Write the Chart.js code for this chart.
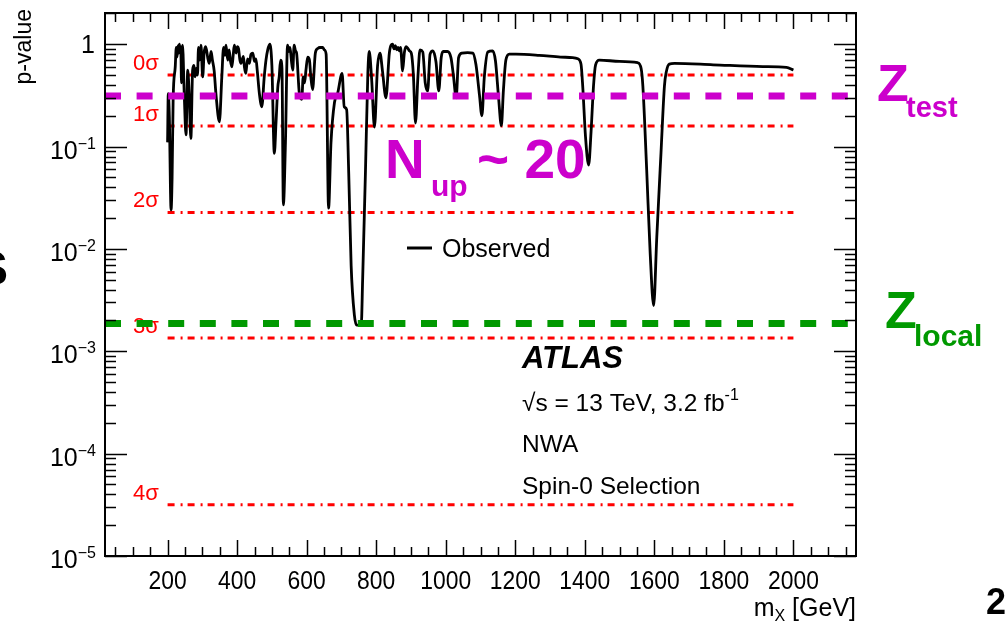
<!DOCTYPE html>
<html><head><meta charset="utf-8">
<script src="https://cdn.jsdelivr.net/npm/chart.js@4.4.1/dist/chart.umd.min.js"></script>
<style>html,body{margin:0;padding:0;background:#fff;}#wrap{width:1005px;height:637px;position:relative;}</style>
</head><body><div id="wrap"><canvas id="c" width="1005" height="637"></canvas></div>
<script>
// ---- data ----
const massGeV = [200,202,205,210,213,216,222,225,227,230,232,234,236,238,240,243,248,253,258,262,267,272,276,279,283,286,289,292,296,301,305,309,312,316,320,325,329,334,339,349,356,361,365,368,373,377,381,385,389,392,397,401,404,408,411,418,421,425,430,435,440,445,450,454,458,464,471,478,483,488,494,500,507,512,517,521,525,529,533,539,545,549,552,556,560,564,568,571,579,586,590,594,598,603,608,612,617,625,632,638,646,651,656,663,670,680,689,702,708,715,721,728,737,744,757,761,769,776,780,787,795,804,811,818,828,838,847,851,855,859,863,867,870,876,881,886,891,896,901,907,913,920,926,934,941,948,955,963,972,980,987,993,1005,1015,1022,1030,1037,1047,1063,1078,1087,1097,1104,1111,1121,1135,1143,1152,1160,1166,1173,1183,1202,1269,1330,1365,1380,1389,1394,1402,1411,1418,1425,1431,1442,1500,1552,1562,1567,1578,1588,1598,1607,1619,1629,1634,1643,1658,1769,1912,1980,2000];
const pObserved = [0.11,0.33,0.2,0.024,0.05,0.29,0.6,0.93,0.75,0.97,0.82,1.0,0.85,0.95,0.42,0.98,0.32,0.13,0.56,0.33,0.12,0.56,0.62,0.48,0.58,0.5,0.93,0.7,0.98,0.48,0.82,0.95,0.88,0.72,0.65,0.85,0.7,0.55,0.33,0.175,0.48,0.93,0.78,0.98,0.7,0.88,0.68,0.6,0.8,0.98,0.82,0.95,0.91,0.7,0.65,0.76,0.6,0.52,0.72,0.65,0.8,0.82,0.68,0.72,0.55,0.33,0.245,0.48,0.7,0.88,1.0,0.62,0.086,0.175,0.38,0.48,0.7,0.58,0.027,0.11,0.98,0.85,0.93,0.7,0.56,0.98,0.86,0.82,0.33,0.29,0.48,0.42,0.56,0.75,0.7,0.48,0.36,0.82,0.91,0.93,0.93,0.88,0.8,0.025,0.11,0.27,0.33,0.52,0.245,0.23,0.055,0.0068,0.0023,0.0018,0.0018,0.005,0.055,0.52,0.85,0.45,0.155,0.62,0.82,0.55,0.3,0.83,1.0,0.9,0.97,0.88,0.93,0.86,0.93,0.55,0.83,0.95,0.91,0.86,0.82,0.5,0.17,0.48,0.88,0.84,0.42,0.35,0.8,0.86,0.67,0.35,0.74,0.85,0.85,0.74,0.5,0.3,0.74,0.82,0.83,0.82,0.63,0.32,0.2,0.48,0.84,0.86,0.69,0.3,0.16,0.36,0.7,0.8,0.8,0.78,0.75,0.74,0.72,0.64,0.39,0.125,0.066,0.14,0.39,0.63,0.7,0.68,0.66,0.58,0.39,0.059,0.0091,0.0028,0.013,0.085,0.39,0.53,0.64,0.65,0.63,0.605,0.595,0.56];
const sigmaLabels = ['0σ','1σ','2σ','3σ','4σ'];
const sigmaP = [0.5, 0.1587, 0.02275, 0.00135, 3.167e-5];
const sigmaRange = [200, 2000];
const zTestP = 0.312;
const zLocalP = 0.00187;
const xTickLabels = ['200','400','600','800','1000','1200','1400','1600','1800','2000'];
const yTickExponents = [0,-1,-2,-3,-4,-5];
const legendLabel = 'Observed';

const FONT = '"Liberation Sans", Arial, Helvetica, sans-serif';
const MAGENTA = '#cc00cc', GREEN = '#009900';

const datasets = [];
datasets.push({label:'Ztest', data:[{x:20,y:zTestP},{x:2180,y:zTestP}], borderColor:MAGENTA, borderWidth:7, borderDash:[16,15.6], borderCapStyle:'butt', pointRadius:0, tension:0, order:0});
datasets.push({label:'Zlocal', data:[{x:20,y:zLocalP},{x:2180,y:zLocalP}], borderColor:GREEN, borderWidth:7, borderDash:[16,15.6], borderCapStyle:'butt', pointRadius:0, tension:0, order:0});
datasets.push({label:legendLabel, data:massGeV.map((m,i)=>({x:m,y:pObserved[i]})), borderColor:'#000', borderWidth:2.8, pointRadius:0, cubicInterpolationMode:'monotone', order:1});
sigmaP.forEach((p,i)=>datasets.push({label:sigmaLabels[i], data:[{x:sigmaRange[0],y:p},{x:sigmaRange[1],y:p}], borderColor:'#ff0000', borderWidth:3, borderDash:[7,6,2,5], borderCapStyle:'butt', pointRadius:0, tension:0, order:2}));

function sup(ctx, base, baseFont, supText, supFont, x, y, dy, align){
  ctx.font = baseFont; const wb = ctx.measureText(base).width;
  ctx.font = supFont; const ws = ctx.measureText(supText).width;
  let x0 = align==='right' ? x - wb - ws : x;
  ctx.textAlign='left';
  ctx.font = baseFont; ctx.fillText(base, x0, y);
  ctx.font = supFont; ctx.fillText(supText, x0+wb, y+dy);
}

const decor = {
  id:'decor',
  beforeDatasetsDraw(chart){
    const ctx = chart.ctx, ya = chart.scales.y;
    ctx.save();
    ctx.fillStyle = '#ff0000'; ctx.font = '22px '+FONT; ctx.textAlign='left'; ctx.textBaseline='alphabetic';
    sigmaP.forEach((p,i)=>{ ctx.fillText(sigmaLabels[i], 133, ya.getPixelForValue(p)-5); });
    ctx.restore();
  },
  afterDatasetsDraw(chart){
    const ctx = chart.ctx, xa = chart.scales.x, ya = chart.scales.y;
    const {left,right,top,bottom} = chart.chartArea;
    ctx.save();
    ctx.strokeStyle='#000'; ctx.lineWidth=2;
    ctx.strokeRect(left, top, right-left, bottom-top);
    ctx.lineWidth=1.5; ctx.beginPath();
    for(let e=-5;e<=0;e++){ for(let k=1;k<=9;k++){ const v=k*Math.pow(10,e); if(v<ya.min*0.999||v>ya.max) continue;
      const y=Math.round(ya.getPixelForValue(v))+0.5; const len = k===1?22:11;
      ctx.moveTo(left,y); ctx.lineTo(left+len,y); ctx.moveTo(right,y); ctx.lineTo(right-len,y);} }
    { const y=Math.round(ya.getPixelForValue(2))+0.5; if(y>top){ctx.moveTo(left,y);ctx.lineTo(left+11,y);ctx.moveTo(right,y);ctx.lineTo(right-11,y);} }
    for(let m=50;m<=2150;m+=50){ const x=Math.round(xa.getPixelForValue(m))+0.5; const len = m%200===0?16:9;
      ctx.moveTo(x,bottom); ctx.lineTo(x,bottom-len); ctx.moveTo(x,top); ctx.lineTo(x,top+len); }
    ctx.stroke();
    ctx.fillStyle='#000'; ctx.textBaseline='alphabetic';
    yTickExponents.forEach(e=>{ const y = ya.getPixelForValue(Math.pow(10,e));
      if(e===0){ ctx.font='25px '+FONT; ctx.textAlign='right'; ctx.fillText('1', 95, y+9); }
      else { sup(ctx,'10','25px '+FONT,'\u2212'+(-e),'16px '+FONT,96,y+12,-10,'right'); } });
    ctx.font='26px '+FONT; ctx.textAlign='center';
    xTickLabels.forEach(l=>{ const x=xa.getPixelForValue(Number(l)); ctx.save(); ctx.translate(x,589); ctx.scale(0.88,1); ctx.fillText(l,0,0); ctx.restore(); });
    ctx.textAlign='left';
    ctx.font='25px '+FONT; const w1=ctx.measureText('m').width, w3=ctx.measureText(' [GeV]').width;
    ctx.font='16px '+FONT; const w2=ctx.measureText('X').width;
    let xs = right - (w1+w2+w3);
    ctx.font='25px '+FONT; ctx.fillText('m', xs, 616);
    ctx.font='16px '+FONT; ctx.fillText('X', xs+w1, 621);
    ctx.font='25px '+FONT; ctx.fillText(' [GeV]', xs+w1+w2, 616);
    ctx.save(); ctx.translate(31, 9); ctx.rotate(-Math.PI/2);
    ctx.font='23px '+FONT; ctx.textAlign='right'; ctx.fillText('p-value', 0, 0); ctx.restore();
    ctx.lineWidth=3; ctx.strokeStyle='#000'; ctx.beginPath(); ctx.moveTo(407,248); ctx.lineTo(432,248); ctx.stroke();
    ctx.font='25px '+FONT; ctx.textAlign='left'; ctx.fillText(legendLabel, 442, 257);
    ctx.font='italic bold 31px '+FONT; ctx.fillText('ATLAS', 522, 368);
    sup(ctx,'\u221As = 13 TeV, 3.2 fb','24.5px '+FONT,'-1','16px '+FONT,522,411,-11,'left');
    ctx.font='24.5px '+FONT; ctx.fillText('NWA', 522, 452);
    ctx.fillText('Spin-0 Selection', 522, 494);
    ctx.fillStyle=MAGENTA;
    ctx.font='bold 55px '+FONT; ctx.fillText('N', 385, 178);
    ctx.font='bold 30px '+FONT; ctx.fillText('up', 431, 196);
    ctx.font='bold 55px '+FONT; ctx.fillText('~ 20', 477, 178);
    ctx.font='bold 52px '+FONT; ctx.fillText('Z', 877, 101);
    ctx.font='bold 29px '+FONT; ctx.fillText('test', 906, 117);
    ctx.fillStyle=GREEN;
    ctx.font='bold 52px '+FONT; ctx.fillText('Z', 885, 328);
    ctx.font='bold 30px '+FONT; ctx.fillText('local', 914, 346);
    ctx.fillStyle='#000';
    ctx.font='bold 48px '+FONT; ctx.fillText('S', -24, 285);
    ctx.font='bold 36px '+FONT; ctx.fillText('2', 986, 614);
    ctx.restore();
  }
};

new Chart(document.getElementById('c'), {
  type:'line',
  data:{datasets},
  options:{
    responsive:false, animation:false, devicePixelRatio:1,
    layout:{padding:{top:13,right:149,left:0,bottom:0}},
    plugins:{legend:{display:false}, tooltip:{enabled:false}},
    scales:{
      x:{type:'linear', min:20, max:2180, grid:{display:false}, border:{display:false}, ticks:{display:false},
         afterFit(s){ s.height = 81; }},
      y:{type:'logarithmic', min:1e-5, max:2.02, grid:{display:false}, border:{display:false}, ticks:{display:false},
         afterFit(s){ s.width = 105; }}
    }
  },
  plugins:[decor]
});
</script></body></html>
